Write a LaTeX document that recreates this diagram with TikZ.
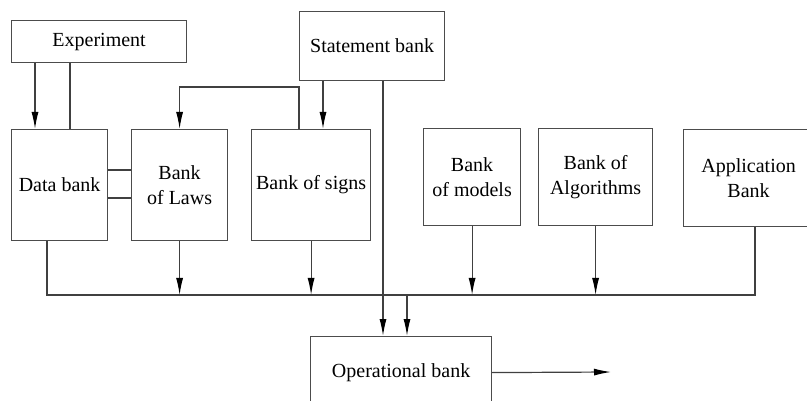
\documentclass[tikz,border=0pt]{standalone}
\usepackage{fontspec}
\setmainfont{LiberationSerif}[Extension=.ttf, UprightFont=*-Regular, BoldFont=*-Bold]
\usepackage{tikz}
\usetikzlibrary{arrows.meta, calc}
\tikzset{
bank/.style={draw=black!70, line width=1.2pt, anchor=north west, align=center,
  inner sep=0pt, font=\fontsize{20}{25}\selectfont},
link/.style={draw=black!75, line width=1.2pt},
feed/.style={link, -{Latex[length=17pt, width=7pt, black]}}
}

\begin{document}
\begin{tikzpicture}[x=1pt, y=-1pt]
			\clip (0,0) rectangle (807,401);
			\node[bank, minimum width=175, minimum height=42] (exp) at (11,20) {Experiment};
			\node[bank, minimum width=145, minimum height=69] (stmt) at (299,11) {Statement bank};
			\node[bank, minimum width=96, minimum height=111] (data) at (11,129) {Data bank};
			\node[bank, minimum width=96, minimum height=111] (laws) at (131,129) {Bank\\of Laws};
			\node[bank, minimum width=119, minimum height=111] (signs) at (251,129) {Bank of signs};
			\node[bank, minimum width=97, minimum height=97] (models) at (423,128) {Bank\\of models};
			\node[bank, minimum width=114, minimum height=97] (algo) at (538,128) {Bank of\\Algorithms};
			\node[bank, minimum width=130, minimum height=97] (app) at (683,129) {Application\\Bank};
			\node[bank, minimum width=181, minimum height=72] (op) at (310,336) {Operational bank};
			% ----
			\coordinate (busL) at (47,295);
			\coordinate (busR) at (755,295);
			\coordinate (opin) at ([xshift=97]op.north west);
			\coordinate (out) at (611,372);
			% ----
			\draw[feed] ([xshift=24]exp.south west) -- ([xshift=24]data.north west);
			\draw[link] ([xshift=59]data.north west) -- ([xshift=59]exp.south west);
			\draw[link] ([yshift=-41]data.north east) -- ([yshift=-41]laws.north west);
			\draw[link] ([yshift=-69]data.north east) -- ([yshift=-69]laws.north west);
			\draw[feed] ([xshift=48]signs.north west) -- ++(0,-42) -| (laws.north);
			\draw[feed] ([xshift=24]stmt.south west) -- ([xshift=72]signs.north west);
			\draw[feed] ([xshift=84]stmt.south west) -- ([xshift=73]op.north west);
			% ----
			\draw[link] ([xshift=36]data.south west) -- (busL) -- (busR)
			-- ([xshift=72]app.south west);
			\draw[feed] (laws.south) -- (laws.south |- busL);
			\draw[feed] (signs.south) -- (signs.south |- busL);
			\draw[feed] (models.south) -- (models.south |- busL);
			\draw[feed] (algo.south) -- (algo.south |- busL);
			\draw[feed] (opin |- busL) -- (opin);
			\draw[feed] (op.east) -- (out);
		\end{tikzpicture}
\end{document}
